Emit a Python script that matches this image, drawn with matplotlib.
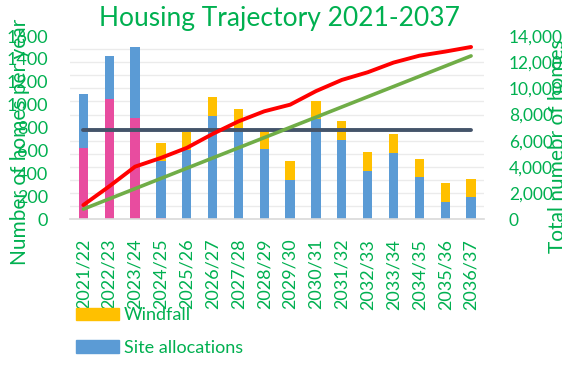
import matplotlib
matplotlib.use("Agg")
import matplotlib.pyplot as plt
from matplotlib.patches import Patch
import numpy as np

plt.rcParams['font.family'] = ['Lato', 'DejaVu Sans']

years = ['2021/22', '2022/23', '2023/24', '2024/25', '2025/26', '2026/27', '2027/28', '2028/29',
         '2029/30', '2030/31', '2031/32', '2032/33', '2033/34', '2034/35', '2035/36', '2036/37']
completions = [625, 1052, 881, 10, 0, 0, 0, 0, 0, 0, 0, 0, 0, 0, 0, 0]
site_allocations = [465, 373, 625, 499, 605, 904, 800, 611, 346, 875, 695, 424, 581, 366, 154, 192]
windfall = [0, 0, 0, 160, 160, 160, 160, 160, 160, 160, 160, 160, 160, 160, 160, 160]
requirement = [780] * 16
cumulative_supply = [1090, 2515, 4021, 4690, 5455, 6519, 7479, 8250, 8756, 9791, 10646, 11230,
                     11971, 12497, 12811, 13163]
cumulative_requirement = [780, 1560, 2340, 3120, 3900, 4680, 5460, 6240, 7020, 7800, 8580, 9360,
                          10140, 10920, 11700, 12480]

GREEN_TEXT = '#00B050'
PINK = '#E84C9F'
BLUE = '#5B9BD5'
YELLOW = '#FFC000'
RED = '#FF0000'
LGREEN = '#70AD47'
SLATE = '#44546A'

fig = plt.figure(figsize=(5.62, 3.74), dpi=100)
ax = fig.add_axes([0.1253, 0.4136, 0.7359, 0.4901])
ax2 = ax.twinx()

x = np.arange(len(years))
w = 0.36
comp = np.array(completions)
site = np.array(site_allocations)
wind = np.array(windfall)

ax.bar(x, comp, w, color=PINK, zorder=2)
ax.bar(x, site, w, bottom=comp, color=BLUE, zorder=2)
ax.bar(x, wind, w, bottom=comp + site, color=YELLOW, zorder=2)
ax.plot(x, requirement, color=SLATE, lw=2.8, solid_capstyle='round', zorder=3)

ax2.plot(x, cumulative_requirement, color=LGREEN, lw=2.6, solid_capstyle='round', zorder=3)
ax2.plot(x, cumulative_supply, color=RED, lw=2.8, solid_capstyle='round', zorder=4)

ax.set_xlim(-0.5, 15.5)
ax.set_ylim(0, 1600)
ax2.set_ylim(0, 14000)

ax.set_yticks(np.arange(0, 1601, 200))
ax.set_yticks(np.arange(15) * 1600 / 14, minor=True)
ax.grid(which='minor', axis='y', color='#EBEBEB', lw=1.0, zorder=0)
ax.set_axisbelow(True)
ax.tick_params(axis='y', which='both', length=0, pad=16, labelsize=13, labelcolor=GREEN_TEXT)
ax2.set_yticks(np.arange(0, 14001, 2000))
ax2.set_yticklabels([f'{v:,}' for v in range(0, 14001, 2000)])
ax2.tick_params(axis='y', length=0, pad=18, labelsize=12.5, labelcolor=GREEN_TEXT)

ax.set_xticks(x)
ax.set_xticklabels(years, rotation=90)
ax.tick_params(axis='x', length=0, pad=14, labelsize=13, labelcolor=GREEN_TEXT)

for a in (ax, ax2):
    for s in a.spines.values():
        s.set_visible(False)
ax.spines['bottom'].set_visible(True)
ax.spines['bottom'].set_color('#D9D9D9')
ax.spines['bottom'].set_linewidth(1.2)

ax.set_ylabel('Number of homes per year', fontsize=15, color=GREEN_TEXT)
ax.yaxis.set_label_coords(-0.098, 0.42)
ax2.set_ylabel('Total numebr of homes', fontsize=15, color=GREEN_TEXT)
ax2.yaxis.set_label_coords(1.155, 0.40)

fig.text(0.497, 0.95, 'Housing Trajectory 2021-2037', fontsize=19, color=GREEN_TEXT,
         ha='center', va='center')

handles = [Patch(color=YELLOW), Patch(color=BLUE)]
fig.legend(handles, ['Windfall', 'Site allocations'], loc='upper left',
           bbox_to_anchor=(0.135, 0.178), frameon=False, fontsize=13, labelcolor=GREEN_TEXT,
           handlelength=2.4, handleheight=0.7, handletextpad=0.25, labelspacing=0.9,
           borderaxespad=0, borderpad=0)

fig.savefig('out.png', dpi=100)
